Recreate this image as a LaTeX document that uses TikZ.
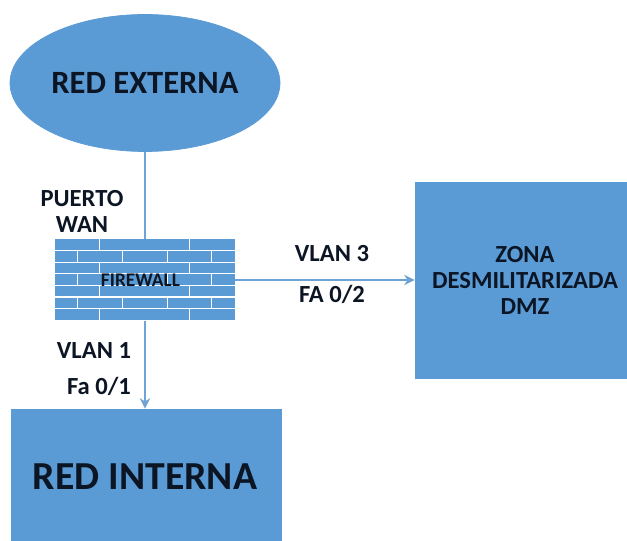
\documentclass[tikz,border=0pt]{standalone}
\usepackage{fontspec}
\setmainfont{Carlito}
\usepackage{xcolor}
\usetikzlibrary{arrows.meta, calc, shapes.geometric}
\definecolor{zoneblue}{HTML}{5B9BD5}
\definecolor{linkblue}{HTML}{6FA3D3}
\definecolor{darktext}{HTML}{0C1524}

\begin{document}
\begin{tikzpicture}[
  zone/.style={draw=zoneblue, fill=zoneblue, inner sep=0pt, minimum width=#1},
  wan/.style={draw=zoneblue, fill=zoneblue, ellipse, inner sep=0pt, minimum width=5.4cm, minimum height=2.74cm, font=\fontsize{18.5}{22}\selectfont\bfseries, text=darktext},
  wall/.style={fill=zoneblue, inner sep=0pt, minimum width=3.6cm, minimum height=1.62cm},
  arr/.style={-{Stealth[length=6pt,width=6pt]}, linkblue, line width=0.7pt},
  lbl/.style={font=\fontsize{14}{14.8}\selectfont\bfseries, text=darktext, align=center, inner sep=0pt},
]
\useasboundingbox (0,0) rectangle (12.54,10.8);

% Zones
\node[wan] (ext) at (2.9,9.14) {RED EXTERNA};
\node[zone=5.4cm, minimum height=2.62cm] (int) at (2.92,1.31) {};
\node[zone=4.24cm, minimum height=3.92cm] (dmz) at (10.42,5.2) {};
\node[wall] (fw) at (2.9,5.2) {};

% Bricks
\foreach \row in {1,...,6}
  \draw[white, line width=0.7pt] ($(fw.north west)+(0,-0.2314*\row)$) -- ($(fw.north east)+(0,-0.2314*\row)$);
\foreach \row in {0,2,4,6}
  \foreach \xa in {0.9,2.7}
    \draw[white, line width=0.7pt] ($(fw.north west)+(\xa,-0.2314*\row)$) -- ++(0,-0.2314);
\foreach \row in {1,3,5}
  \foreach \xa in {0.46,1.36,2.26,3.14}
    \draw[white, line width=0.7pt] ($(fw.north west)+(\xa,-0.2314*\row)$) -- ++(0,-0.2314);

% Links
\draw[linkblue, line width=0.7pt] (ext) -- (fw);
\draw[arr] (fw.east |- 0,5.2) -- (dmz);
\draw[arr] (fw) -- (fw |- int.north);

% Labels
\node[font=\fontsize{22.6}{26}\selectfont\bfseries, text=darktext, inner sep=0pt] (intname) at (2.9,1.26) {RED INTERNA};
\node[font=\fontsize{11}{13}\selectfont\bfseries, text=darktext, inner sep=0pt] (fwname) at (2.81,5.2) {FIREWALL};
\node[lbl] (dmzname) at (10.5,5.2) {ZONA\\DESMILITARIZADA\\DMZ};
\node[lbl] (wanport) at (1.64,6.58) {PUERTO\\WAN};
\node[lbl] (vlantres) at (6.64,5.72) {VLAN 3};
\node[lbl] (fatwo) at (6.64,4.92) {FA 0/2};
\node[lbl] (vlanone) at (1.88,3.78) {VLAN 1};
\node[lbl] (faone) at (1.98,3.08) {Fa 0/1};
\end{tikzpicture}
\end{document}
